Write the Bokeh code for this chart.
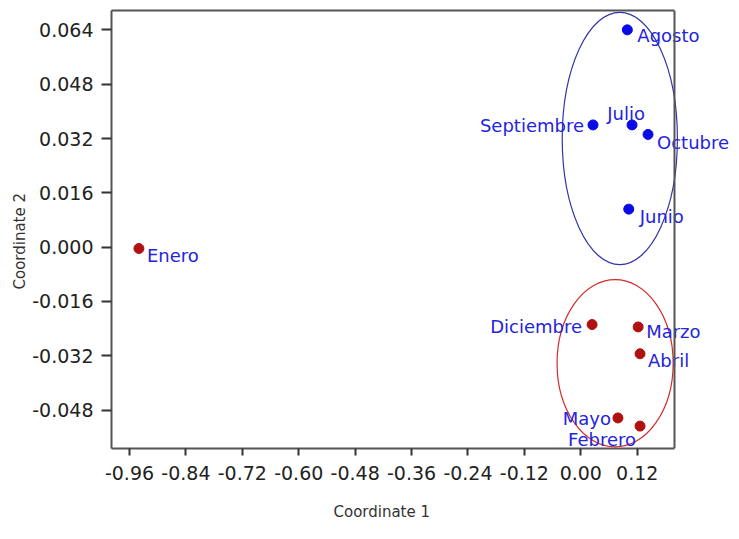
from bokeh.plotting import figure
from bokeh.models import (Range1d, FixedTicker, NumeralTickFormatter, ColumnDataSource,
                          Label, LinearAxis, Span, Title)
from bokeh.embed import file_html
from bokeh.resources import INLINE

# Multidimensional scaling: two coordinates per month
months = ["Enero", "Febrero", "Marzo", "Abril", "Mayo", "Junio",
          "Julio", "Agosto", "Septiembre", "Octubre", "Diciembre"]
coord1 = [-0.940, 0.126, 0.122, 0.126, 0.079, 0.102,
          0.109, 0.099, 0.026, 0.143, 0.024]
coord2 = [-0.0004, -0.0527, -0.0235, -0.0314, -0.0503, 0.0112,
          0.0360, 0.0640, 0.0360, 0.0332, -0.0228]
season = ["wet", "wet", "wet", "wet", "wet", "dry",
          "dry", "dry", "dry", "dry", "wet"]

# Cluster ellipses (centre, width, height in coordinate units)
cluster_names = ["dry", "wet"]
cluster_x = [0.083, 0.073]
cluster_y = [0.032, -0.0342]
cluster_w = [0.245, 0.247]
cluster_h = [0.0743, 0.0493]

x_ticks = [-0.96, -0.84, -0.72, -0.60, -0.48, -0.36, -0.24, -0.12, 0.00, 0.12]
y_ticks = [-0.048, -0.032, -0.016, 0.000, 0.016, 0.032, 0.048, 0.064]

# axes box limits; the drawing area runs on to the right so labels are not cut
X_MIN, X_MAX, X_VIEW_MAX = -0.9983, 0.1993, 0.3376
Y_MIN, Y_MAX = -0.0593, 0.0697

# label placement (screen pixels, y downwards) and alignment per month
label_dx = [8, -38, 8, 8, -7, 11, -6, 10, -9, 9, -10]
label_dy = [7, 13, 5, 7, 1, 7, -11, 6, 1, 8, 2]
label_align = ["left", "center", "left", "left", "right", "left",
               "center", "left", "right", "left", "right"]

point_color = {"dry": "#0a0ae6", "wet": "#b01010"}
ellipse_color = {"dry": "#3434a8", "wet": "#d42a2a"}
SPINE = "#555555"
FONT = "DejaVu Sans"

p = figure(width=739, height=539, output_backend="svg", toolbar_location=None,
           x_range=Range1d(X_MIN, X_VIEW_MAX), y_range=Range1d(Y_MIN, Y_MAX),
           min_border_left=111, min_border_right=0, min_border_top=10,
           min_border_bottom=84)
p.background_fill_color = "white"
p.border_fill_color = "white"
p.xgrid.visible = False
p.ygrid.visible = False
p.outline_line_color = None

src = ColumnDataSource(dict(
    x=coord1, y=coord2, color=[point_color[s] for s in season],
))

ell = ColumnDataSource(dict(
    x=cluster_x, y=cluster_y, w=cluster_w, h=cluster_h,
    color=[ellipse_color[c] for c in cluster_names],
))
p.ellipse(x="x", y="y", width="w", height="h", source=ell,
          fill_color=None, line_color="color", line_width=1.2)

p.scatter(x="x", y="y", source=src, size=10, fill_color="color",
          line_color="color")

# month names next to their points
for name, cx, cy, dx, dy, align in zip(months, coord1, coord2,
                                        label_dx, label_dy, label_align):
    p.add_layout(Label(x=cx, y=cy, text=name, x_offset=dx, y_offset=-dy,
                       text_align=align, text_baseline="middle",
                       text_font=FONT, text_font_size="18px",
                       text_color="#2424e0"))

bottom = p.below[0]
left = p.left[0]

for ax in (bottom, left):
    ax.axis_line_color = SPINE
    ax.axis_line_width = 2
    ax.major_tick_line_color = "#333333"
    ax.major_tick_line_width = 2
    ax.minor_tick_line_color = None
    ax.major_tick_in = 0
    ax.major_label_text_font = FONT
    ax.major_label_text_font_size = "19px"
    ax.major_label_text_color = "#222222"

bottom.bounds = (X_MIN, X_MAX)
bottom.ticker = FixedTicker(ticks=x_ticks)
bottom.formatter = NumeralTickFormatter(format="0.00")
bottom.major_tick_out = 7
bottom.major_label_standoff = 10

left.ticker = FixedTicker(ticks=y_ticks)
left.formatter = NumeralTickFormatter(format="0.000")
left.major_tick_out = 10
left.major_label_standoff = 8

# axis titles, placed along the box rather than the wider drawing area
p.add_layout(Title(text="Coordinate 1", align="left", offset=222,
                   text_font=FONT, text_font_size="15px",
                   text_font_style="normal", text_color="#333333",
                   standoff=37), "below")
p.add_layout(Title(text="Coordinate 2", align="left", offset=159,
                   text_font=FONT, text_font_size="15px",
                   text_font_style="normal", text_color="#333333",
                   standoff=2), "left")

# box: right edge as a span, top edge as a bare axis line
p.add_layout(Span(location=X_MAX, dimension="height", line_color=SPINE,
                  line_width=2))
top = LinearAxis(ticker=FixedTicker(ticks=[]), bounds=(X_MIN, X_MAX),
                 axis_line_color=SPINE, axis_line_width=2,
                 major_tick_line_color=None, minor_tick_line_color=None,
                 major_label_text_color=None)
p.add_layout(top, "above")

open("out.html", "w").write(file_html(p, INLINE))
